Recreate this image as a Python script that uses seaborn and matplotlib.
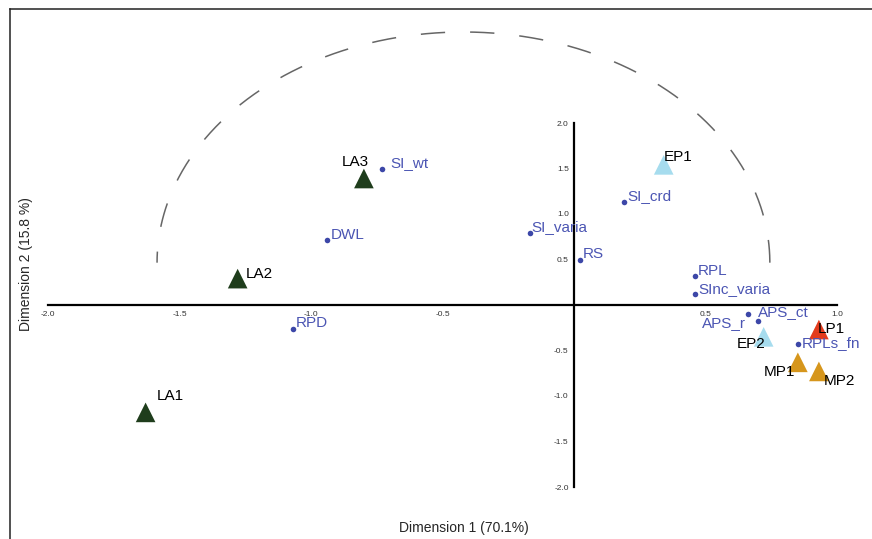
import numpy as np
import pandas as pd
import matplotlib
matplotlib.use("Agg")
import matplotlib.pyplot as plt
import seaborn as sns

# variables (blue dots)
VAR_NAMES = ["SI_wt", "DWL", "RPD", "SI_varia", "RS", "SI_crd",
             "RPL", "SInc_varia", "APS_ct", "APS_r", "RPLs_fn"]
VAR_DIM1 = [-0.73, -0.94, -1.07, -0.17, 0.02, 0.19, 0.46, 0.46, 0.66, 0.70, 0.85]
VAR_DIM2 = [1.49, 0.71, -0.26, 0.79, 0.49, 1.13, 0.32, 0.12, -0.10, -0.18, -0.43]

# samples (triangles)
SITE_NAMES = ["LA1", "LA2", "LA3", "EP1", "EP2", "LP1", "MP1", "MP2"]
SITE_GROUP = ["LA", "LA", "LA", "EP", "EP", "LP", "MP", "MP"]
SITE_DIM1 = [-1.63, -1.28, -0.80, 0.34, 0.72, 0.93, 0.85, 0.93]
SITE_DIM2 = [-1.18, 0.29, 1.39, 1.54, -0.35, -0.27, -0.63, -0.73]

X_TICKS = [-2.0, -1.5, -1.0, -0.5, 0.5, 1.0]
Y_TICKS = [-2.0, -1.5, -1.0, -0.5, 0.5, 1.0, 1.5, 2.0]
X_TITLE = "Dimension 1 (70.1%)"
Y_TITLE = "Dimension 2 (15.8 %)"

GROUP_COLORS = {"LA": "#1f3d1c", "EP": "#a6dcee", "LP": "#e33b1c", "MP": "#d6961c"}
DOT_COLOR = "#3c47a8"
VAR_TEXT = "#4b55b3"

# label nudges in pixels (dx, dy, ha)
NUDGE = {
    "SI_wt": (8, 6, "left"), "DWL": (4, 5, "left"), "RPD": (3, 6, "left"),
    "SI_varia": (2, 6, "left"), "RS": (3, 6, "left"), "SI_crd": (3, 6, "left"),
    "RPL": (2, 5, "left"), "SInc_varia": (3, 5, "left"), "APS_ct": (10, 2, "left"),
    "APS_r": (-12, -2, "right"), "RPLs_fn": (4, 1, "left"),
    "LA1": (11, 16, "left"), "LA2": (8, 5, "left"), "LA3": (5, 17, "right"),
    "EP1": (0, 8, "left"), "EP2": (2, -7, "right"), "LP1": (-1, 1, "left"),
    "MP1": (-3, -10, "right"), "MP2": (5, -10, "left"),
}

sns.set_style("white")
plt.rcParams["font.family"] = ["Liberation Sans", "DejaVu Sans"]
plt.rcParams["lines.scale_dashes"] = False

vars_df = pd.DataFrame({"name": VAR_NAMES, "dim1": VAR_DIM1, "dim2": VAR_DIM2})
sites_df = pd.DataFrame({"name": SITE_NAMES, "group": SITE_GROUP,
                         "dim1": SITE_DIM1, "dim2": SITE_DIM2})

W, H = 872, 539
fig = plt.figure(figsize=(W / 100, H / 100), dpi=100)

# outer frame (only left and top edges are visible in the crop)
frame = fig.add_axes([10 / W, -0.1, 1.0, 1.1 - 9 / H])
frame.set_xticks([])
frame.set_yticks([])
for s in ["right", "bottom"]:
    frame.spines[s].set_visible(False)
for s in ["left", "top"]:
    frame.spines[s].set_color("#222222")
    frame.spines[s].set_linewidth(1.1)

ax = fig.add_axes([0, 0, 1, 1])
ax.patch.set_alpha(0)
x0, sx = 574.3, 263.0
y0, sy = 305.0, 91.0
ax.set_xlim(-x0 / sx, (W - x0) / sx)
ax.set_ylim(-(H - y0) / sy, y0 / sy)

# dashed half ellipse
cx, cy, rx, ry = -0.4215, 0.465, 1.165, 2.535
t = np.linspace(np.pi, 0, 400)
ax.plot(cx + rx * np.cos(t), cy + ry * np.sin(t), color="#666666", lw=1.1,
        linestyle=(9.5, (17.5, 18.0)), zorder=1)

# cross axes
for s in ["top", "right"]:
    ax.spines[s].set_visible(False)
ax.spines["left"].set_position(("data", 0))
ax.spines["bottom"].set_position(("data", 0))
ax.spines["left"].set_bounds(-2, 2)
ax.spines["bottom"].set_bounds(-2, 1)
for s in ["left", "bottom"]:
    ax.spines[s].set_linewidth(1.6)
    ax.spines[s].set_color("black")
ax.set_xticks(X_TICKS)
ax.set_xticklabels([f"{v:.1f}" for v in X_TICKS])
ax.set_yticks(Y_TICKS)
ax.set_yticklabels([f"{v:.1f}" for v in Y_TICKS])
ax.tick_params(axis="both", direction="out", length=2.5, width=1.5, color="black",
               labelsize=6, labelcolor="#333333", pad=1.5)
ax.set_xlabel("")
ax.set_ylabel("")

sns.scatterplot(data=vars_df, x="dim1", y="dim2", color=DOT_COLOR, s=16,
                linewidth=0, ax=ax, zorder=3)
sns.scatterplot(data=sites_df, x="dim1", y="dim2", hue="group", palette=GROUP_COLORS,
                marker="^", s=200, linewidth=0, legend=False, ax=ax, zorder=3)
ax.set_xlabel("")
ax.set_ylabel("")

for _, r in vars_df.iterrows():
    dx, dy, ha = NUDGE[r["name"]]
    ax.annotate(r["name"], (r["dim1"], r["dim2"]), xytext=(dx, dy),
                textcoords="offset pixels", ha=ha, va="center",
                fontsize=11, color=VAR_TEXT, zorder=5)
for _, r in sites_df.iterrows():
    dx, dy, ha = NUDGE[r["name"]]
    ax.annotate(r["name"], (r["dim1"], r["dim2"]), xytext=(dx, dy),
                textcoords="offset pixels", ha=ha, va="center",
                fontsize=11, color="black", zorder=5)

fig.text(464 / W, 1 - 528 / H, X_TITLE, ha="center", va="center", fontsize=10)
fig.text(26 / W, 1 - 264 / H, Y_TITLE, ha="center", va="center", fontsize=10,
         rotation=90)

fig.savefig("out.png", dpi=100)
